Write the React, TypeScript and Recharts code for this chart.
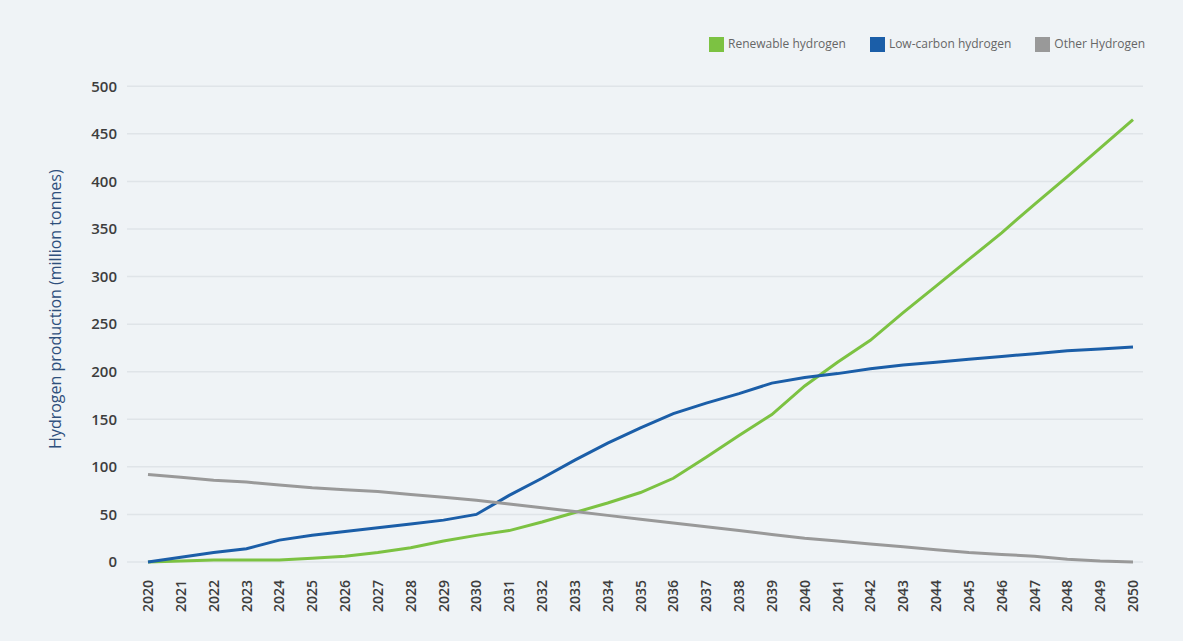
import { LineChart, Line, XAxis, YAxis, CartesianGrid, Legend } from 'recharts';

const years = [
  '2020', '2021', '2022', '2023', '2024', '2025', '2026', '2027', '2028', '2029', '2030',
  '2031', '2032', '2033', '2034', '2035', '2036', '2037', '2038', '2039', '2040',
  '2041', '2042', '2043', '2044', '2045', '2046', '2047', '2048', '2049', '2050',
];

const renewable = [
  0, 1, 2, 2, 2, 4, 6, 10, 15, 22, 28,
  33, 42, 52, 62, 73, 88, 110, 133, 155, 185,
  210, 233, 262, 290, 318, 346, 376, 405, 435, 465,
];

const lowCarbon = [
  0, 5, 10, 14, 23, 28, 32, 36, 40, 44, 50,
  70, 88, 107, 125, 141, 156, 167, 177, 188, 194,
  198, 203, 207, 210, 213, 216, 219, 222, 224, 226,
];

const other = [
  92, 89, 86, 84, 81, 78, 76, 74, 71, 68, 65,
  61, 57, 53, 49, 45, 41, 37, 33, 29, 25,
  22, 19, 16, 13, 10, 8, 6, 3, 1, 0,
];

const seriesNames = ['Renewable hydrogen', 'Low-carbon hydrogen', 'Other Hydrogen'];

const yTicks = [0, 50, 100, 150, 200, 250, 300, 350, 400, 450, 500];

const data = years.map((year, i) => ({
  year,
  renewable: renewable[i],
  lowCarbon: lowCarbon[i],
  other: other[i],
}));

const FONT = '"Open Sans", "Noto Sans", sans-serif';

// rotated year labels, reading bottom to top
function YearTick({ x, y, payload }: any) {
  return (
    <text
      x={x}
      y={y + 18}
      transform={`rotate(-90, ${x}, ${y + 18})`}
      textAnchor="end"
      dy="0.36em"
      fill="#3d3d3d"
      fontSize={14}
      fontWeight={600}
      fontFamily={FONT}
    >
      {payload.value}
    </text>
  );
}

function AxisTitle({ viewBox }: any) {
  const cx = 55;
  const cy = viewBox.y + viewBox.height / 2 - 15;
  return (
    <text
      x={cx}
      y={cy}
      transform={`rotate(-90, ${cx}, ${cy})`}
      textAnchor="middle"
      dy="0.36em"
      fill="#2e4f7c"
      fontSize={16}
      fontFamily={FONT}
    >
      Hydrogen production (million tonnes)
    </text>
  );
}

export default function App() {
  return (
    <div style={{ position: 'absolute', left: 0, top: 0, width: 1183, height: 641, background: '#eff3f6' }}>
      <LineChart
        width={1183}
        height={641}
        data={data}
        margin={{ top: 69, right: 40, left: 40, bottom: 9 }}
      >
        <CartesianGrid vertical={false} stroke="#dfe4e8" strokeWidth={1.5} />
        <XAxis
          dataKey="year"
          interval={0}
          padding={{ left: 21, right: 10 }}
          axisLine={false}
          tickLine={false}
          tickSize={0}
          tickMargin={0}
          height={70}
          tick={<YearTick />}
        />
        <YAxis
          domain={[0, 500]}
          ticks={yTicks}
          axisLine={false}
          tickLine={false}
          tickSize={0}
          tickMargin={10}
          width={87}
          tick={{ fill: '#3d3d3d', fontSize: 15, fontWeight: 600, fontFamily: FONT }}
          label={<AxisTitle />}
        />
        <Legend
          verticalAlign="top"
          align="right"
          iconType="square"
          iconSize={15}
          itemSorter={(item: any) => seriesNames.indexOf(item.value)}
          wrapperStyle={{ top: 35, right: 14, fontFamily: FONT, fontSize: 12 }}
          formatter={(value: string) => <span style={{ color: '#666', marginRight: 14 }}>{value}</span>}
        />
        <Line
          type="linear"
          dataKey="renewable"
          name={seriesNames[0]}
          stroke="#7cc242"
          strokeWidth={3}
          dot={false}
          isAnimationActive={false}
        />
        <Line
          type="linear"
          dataKey="lowCarbon"
          name={seriesNames[1]}
          stroke="#1b5ea8"
          strokeWidth={3}
          dot={false}
          isAnimationActive={false}
        />
        <Line
          type="linear"
          dataKey="other"
          name={seriesNames[2]}
          stroke="#999999"
          strokeWidth={3}
          dot={false}
          isAnimationActive={false}
        />
      </LineChart>
    </div>
  );
}
